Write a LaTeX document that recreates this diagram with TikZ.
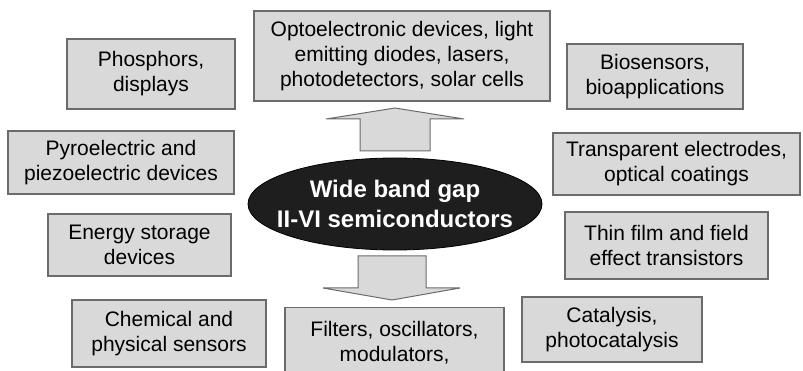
\documentclass[tikz,border=0pt]{standalone}
\usepackage{fontspec}
\setmainfont{Liberation Sans}
\usetikzlibrary{shapes.geometric}

\definecolor{boxgray}{HTML}{D9D9D9}
\definecolor{edgegray}{HTML}{6B6B6B}
\definecolor{coreblack}{HTML}{1E1E1E}

\begin{document}
\begin{tikzpicture}[x=1pt, y=-1pt,
    appbox/.style={draw=edgegray, fill=boxgray, line width=1.3pt,
        align=center, inner sep=0pt, font=\fontsize{21}{25}\selectfont},
    blockarrow/.style={draw=edgegray, fill=boxgray, line width=1pt}]

    % 描画範囲
    \useasboundingbox (0,0) rectangle (803,371);

    % 応用分野の箱
    \foreach \n/\cx/\cy/\w/\h/\txt in {
        phos/151/74/168/70/{Phosphors,\\ displays},
        opto/402/56/296/90/{Optoelectronic devices, light\\ emitting diodes, lasers,\\ photodetectors, solar cells},
        bio/655/76.5/176/65/{Biosensors,\\ bioapplications},
        pyro/121/162.5/226/63/{Pyroelectric and\\ piezoelectric devices},
        trans/676.5/164/247/62/{Transparent electrodes,\\ optical coatings},
        energy/139.5/245/183/62/{Energy storage\\ devices},
        thin/666.5/245.5/203/67/{Thin film and field\\ effect transistors},
        chem/169/333.5/194/67/{Chemical and\\ physical sensors},
        cata/612/329.5/180/65/{Catalysis,\\ photocatalysis}} {
        \node[appbox, minimum width=\w pt, minimum height=\h pt] (\n) at (\cx,\cy) {\txt};
    }

    % 下端で切れている箱
    \node[appbox, anchor=north, minimum width=219pt, minimum height=92pt]
        (filt) at (394.5,307) {Filters, oscillators,\\ modulators,\\ \mbox{}};

    % 上向きの矢印
    \draw[blockarrow] (360,151) -- (360,119) -- (326,119) -- (395,108)
        -- (464,119) -- (430,119) -- (430,151) -- cycle;

    % 下向きの矢印
    \draw[blockarrow] (358,256) -- (358,288) -- (323,288) -- (392,300)
        -- (460,288) -- (426,288) -- (426,256) -- cycle;

    % 中央の楕円
    \node[ellipse, draw=black, fill=coreblack, line width=0.8pt,
        minimum width=294pt, minimum height=92pt] (core) at (395,204) {};
    \node[text=white, align=center, font=\fontsize{24}{30}\selectfont\bfseries]
        (coretext) at (core.center) {Wide band gap\\ II-VI semiconductors};

\end{tikzpicture}
\end{document}
